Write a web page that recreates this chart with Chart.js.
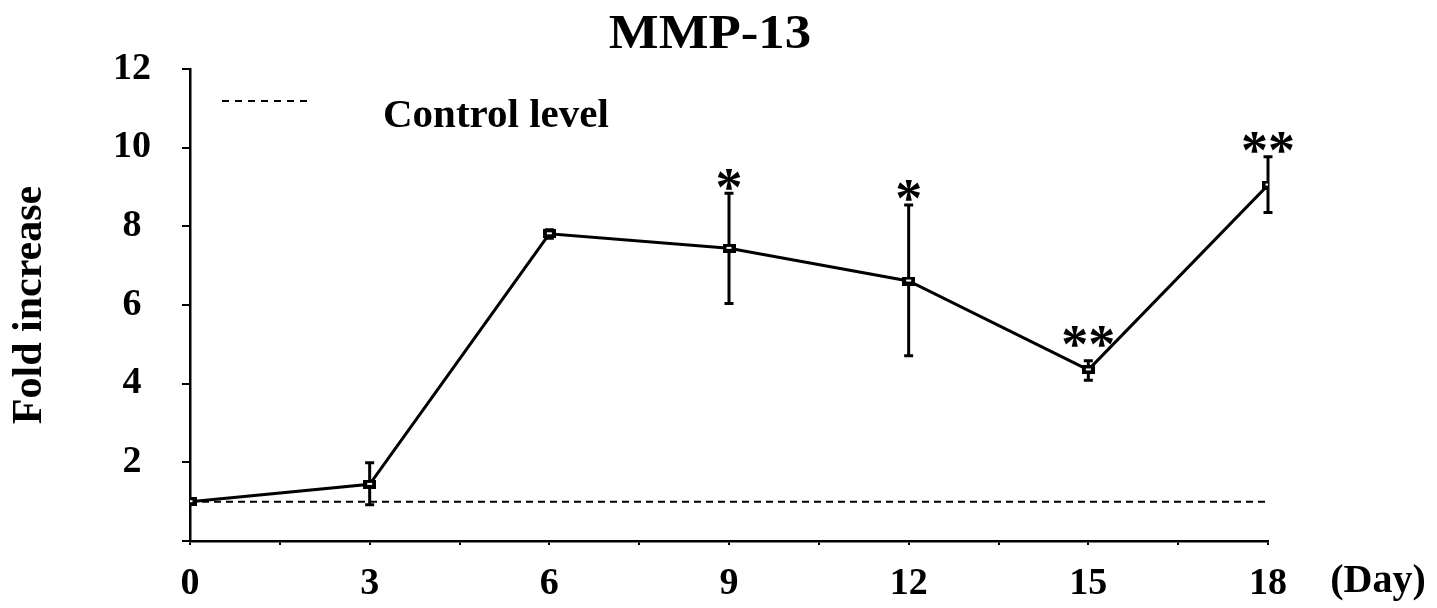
<!DOCTYPE html>
<html>
<head>
<meta charset="utf-8">
<script src="https://cdn.jsdelivr.net/npm/chart.js@4/dist/chart.umd.min.js"></script>
<style>
  body { margin: 0; background: #fff; }
</style>
</head>
<body>
<canvas id="mmpChart" width="1437" height="608"></canvas>
<script>
// data
const days = [0, 3, 6, 9, 12, 15, 18];
const foldIncrease = [1.0, 1.44, 7.81, 7.44, 6.61, 4.35, 9.05];
const errUpper = [1.0, 1.99, 7.91, 8.84, 8.54, 4.58, 9.77];
const errLower = [1.0, 0.92, 7.70, 6.04, 4.71, 4.09, 8.35];
const signifMarks = ['', '', '', '*', '*', '**', '**'];
const signifAt = [null, null, null, 9.18, 8.92, 5.19, 10.12];
const controlLevel = 1;
const dayLabels = [0, 3, 6, 9, 12, 15, 18];
const serif = '"Liberation Serif", "Times New Roman", serif';

Chart.defaults.color = '#000';
Chart.defaults.font.family = serif;

// small rectangular marker
const marker = document.createElement('canvas');
marker.width = 13;
marker.height = 9;
const mctx = marker.getContext('2d');
mctx.fillStyle = '#000';
mctx.fillRect(0, 0, 13, 9);
mctx.fillStyle = '#fff';
mctx.fillRect(4, 3, 5, 2);

// title, error bars, asterisks, legend and (Day)
const extras = {
  id: 'extras',
  beforeDatasetsDraw(chart) {
    const { ctx, scales: { x, y } } = chart;
    ctx.save();
    ctx.strokeStyle = '#000';
    ctx.lineWidth = 3;
    days.forEach((d, i) => {
      if (errUpper[i] === errLower[i]) return;
      const px = x.getPixelForValue(d);
      const top = y.getPixelForValue(errUpper[i]);
      const bot = y.getPixelForValue(errLower[i]);
      ctx.beginPath();
      ctx.moveTo(px, top); ctx.lineTo(px, bot);
      ctx.moveTo(px - 4.5, top); ctx.lineTo(px + 4.5, top);
      ctx.moveTo(px - 4.5, bot); ctx.lineTo(px + 4.5, bot);
      ctx.stroke();
    });
    ctx.restore();
  },
  afterDraw(chart) {
    const { ctx, chartArea, scales: { x, y } } = chart;
    ctx.save();
    ctx.fillStyle = '#000';

    // title
    ctx.save();
    ctx.font = 'bold 48px ' + serif;
    ctx.textAlign = 'center';
    ctx.textBaseline = 'alphabetic';
    ctx.translate(710, 48);
    ctx.scale(1.1, 1);
    ctx.fillText('MMP-13', 0, 0);
    ctx.restore();

    // asterisks
    ctx.font = 'bold 54px ' + serif;
    ctx.textAlign = 'center';
    ctx.textBaseline = 'alphabetic';
    signifMarks.forEach((s, i) => {
      if (!s) return;
      const m = ctx.measureText(s);
      const cy = y.getPixelForValue(signifAt[i]);
      const off = (m.actualBoundingBoxAscent - m.actualBoundingBoxDescent) / 2;
      ctx.fillText(s, x.getPixelForValue(days[i]), cy + off);
    });

    // legend
    ctx.strokeStyle = '#000';
    ctx.lineWidth = 2;
    ctx.setLineDash([7, 6]);
    ctx.beginPath();
    ctx.moveTo(chartArea.left + 32, 101);
    ctx.lineTo(chartArea.left + 123, 101);
    ctx.stroke();
    ctx.setLineDash([]);
    ctx.font = 'bold 41px ' + serif;
    ctx.textAlign = 'left';
    ctx.fillText('Control level', chartArea.left + 193, 127);

    // day unit
    ctx.font = 'bold 40px ' + serif;
    ctx.textAlign = 'center';
    ctx.textBaseline = 'middle';
    ctx.fillText('(Day)', chartArea.right + 110, chartArea.bottom + 41);
    ctx.restore();
  }
};

const ctx = document.getElementById('mmpChart').getContext('2d');
new Chart(ctx, {
  type: 'line',
  data: {
    datasets: [
      {
        label: 'MMP-13',
        data: days.map((d, i) => ({ x: d, y: foldIncrease[i] })),
        borderColor: '#000',
        borderWidth: 3,
        pointStyle: marker,
        pointRadius: 6,
        tension: 0
      },
      {
        label: 'Control level',
        data: [{ x: days[0], y: controlLevel }, { x: days[days.length - 1], y: controlLevel }],
        borderColor: '#000',
        borderWidth: 2,
        borderDash: [7, 5],
        pointRadius: 0
      }
    ]
  },
  options: {
    responsive: false,
    animation: false,
    layout: { padding: { top: 69, right: 169, left: 0, bottom: 0 } },
    plugins: {
      legend: { display: false },
      tooltip: { enabled: false },
      title: { display: false }
    },
    scales: {
      x: {
        type: 'linear',
        min: 0,
        max: 18,
        afterFit(scale) { scale.height = 67; },
        border: { color: '#000', width: 2.5 },
        grid: { drawOnChartArea: false, tickLength: 4, lineWidth: 2, color: '#000' },
        ticks: {
          stepSize: 1.5,
          autoSkip: false,
          maxRotation: 0,
          padding: 16,
          font: { size: 38, weight: 'bold' },
          callback: v => dayLabels.includes(v) ? v : ''
        }
      },
      y: {
        min: 0,
        max: 12,
        afterFit(scale) { scale.width = 190; },
        border: { color: '#000', width: 2.5 },
        grid: { drawOnChartArea: false, tickLength: 8, lineWidth: 2, color: '#000' },
        title: {
          display: true,
          text: 'Fold increase',
          font: { size: 42, weight: 'bold', lineHeight: 1.2 },
          padding: { top: 5, bottom: 0 }
        },
        ticks: {
          stepSize: 2,
          crossAlign: 'center',
          padding: 31,
          font: { size: 38, weight: 'bold' },
          callback: v => v === 0 ? '' : v
        }
      }
    }
  },
  plugins: [extras]
});
</script>
</body>
</html>
